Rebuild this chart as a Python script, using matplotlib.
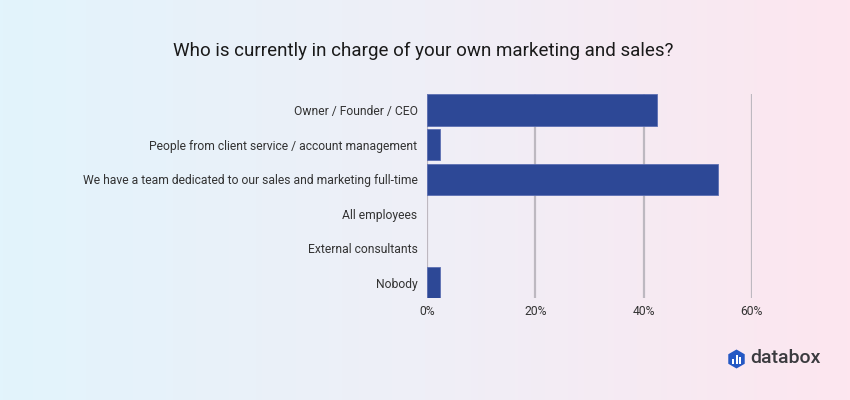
import matplotlib.pyplot as plt
import numpy as np
from matplotlib.colors import LinearSegmentedColormap
from matplotlib.patches import RegularPolygon, Rectangle
from matplotlib.transforms import IdentityTransform

plt.rcParams['font.family'] = ['Roboto', 'DejaVu Sans']

categories = [
    'Owner / Founder / CEO',
    'People from client service / account management',
    'We have a team dedicated to our sales and marketing full-time',
    'All employees',
    'External consultants',
    'Nobody',
]
values = [42.5, 2.4, 53.7, 0, 0, 2.4]
ticks = [0, 20, 40, 60]
tick_labels = ['0%', '20%', '40%', '60%']

fig = plt.figure(figsize=(8.5, 4), dpi=100)

# gradient background
bg = fig.add_axes([0, 0, 1, 1], zorder=-10)
cmap = LinearSegmentedColormap.from_list('bg', ['#e2f4fc', '#efeff7', '#fde6ef'])
bg.imshow(np.linspace(0, 1, 256).reshape(1, -1), aspect='auto', cmap=cmap,
          extent=[0, 1, 0, 1])
bg.set_axis_off()

fig.text(0.4975, 0.873, 'Who is currently in charge of your own marketing and sales?',
         ha='center', va='center', fontsize=13.5, color='#1a1a1a')

ax = fig.add_axes([0.5027, 0.254, 0.3817, 0.5098])
ax.patch.set_alpha(0)
y = np.arange(len(categories))
lw = [0.6 if v > 0 else 0 for v in values]
ax.barh(y, values, height=0.9, color='#2d4896', edgecolor='#5c6fb3',
        linewidth=lw, zorder=3)
ax.set_ylim(len(categories) - 0.55, -0.45)
ax.set_xlim(0, 60)
ax.set_xticks(ticks)
ax.set_xticklabels(tick_labels)
ax.set_yticks(y)
ax.set_yticklabels(categories)
ax.grid(axis='x', color='#bdb8c0', linewidth=1.6, zorder=0)
for s in ax.spines.values():
    s.set_visible(False)
ax.tick_params(axis='both', length=0, labelsize=8.75, colors='#333333')
ax.tick_params(axis='y', pad=7)
ax.tick_params(axis='x', pad=5)

# databox logo (pixel coords)
px = IdentityTransform()
fig.patches.append(RegularPolygon((736.5, 41), numVertices=6, radius=9.5,
                                  orientation=0, transform=px,
                                  facecolor='#2558c4', edgecolor='none'))
for dx, h in [(-3.5, 5), (0, 9), (3.5, 7)]:
    fig.patches.append(Rectangle((736.5 + dx - 1, 36), 2, h,
                                 transform=px, facecolor='white'))
fig.text(750 / 850, 1 - 358 / 400, 'databox', ha='left', va='center',
         fontsize=14, color='#3b3b3f', fontweight='medium')

plt.savefig('out.png')
